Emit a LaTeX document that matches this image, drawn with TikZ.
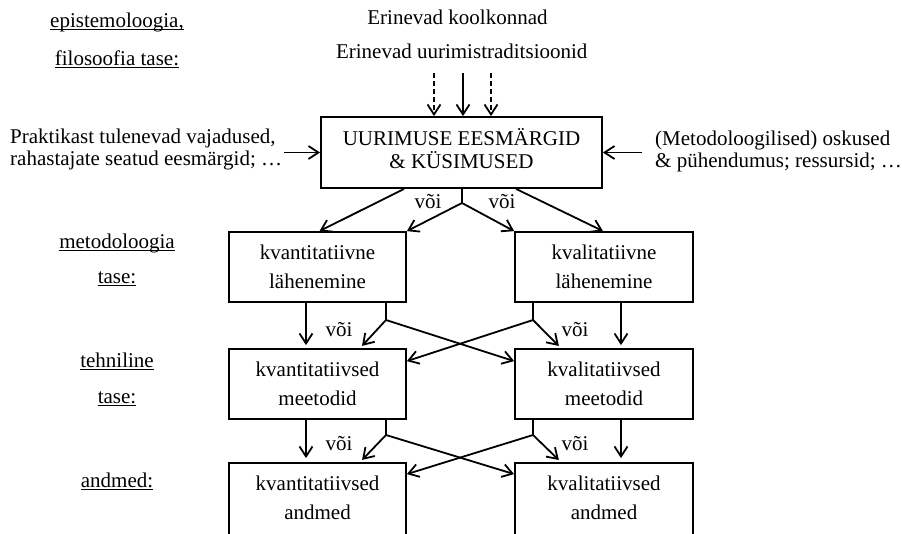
\documentclass[tikz,border=0pt]{standalone}
\usepackage{fontspec}
\setmainfont{Liberation Serif}
\usetikzlibrary{arrows.meta,calc}
\newsavebox\undlbox
\newcommand\undl[1]{\sbox\undlbox{#1}\rlap{\rule[-2.5pt]{\wd\undlbox}{0.9pt}}\usebox\undlbox}
\begin{document}
\begin{tikzpicture}[x=1pt,y=-1pt,
  every node/.style={font=\fontsize{21}{22}\selectfont},
  box/.style={draw, line width=1.8pt, align=center, inner sep=0pt, font=\fontsize{21}{29}\selectfont},
  lvl/.style={anchor=base, inner sep=0pt},
  txt/.style={inner sep=0pt},
  vv/.style={anchor=base, inner sep=0pt},
  ln/.style={line width=1.8pt},
  arr/.style={line width=1.8pt, -{Straight Barb[length=10pt,width=13pt]}},
  dsh/.style={dash pattern=on 5pt off 3pt}
]
\useasboundingbox (0,0) rectangle (902,533);

% boxes
\node[box, minimum width=281pt, minimum height=71pt, font=\fontsize{21}{23}\selectfont] (main) at (461.5,152.5) {UURIMUSE EESMÄRGID\\\& KÜSIMUSED\rule[-8pt]{0pt}{8pt}};
\node[box, minimum width=177pt, minimum height=70pt] (q1) at (317.5,267) {kvantitatiivne\\lähenemine};
\node[box, minimum width=178pt, minimum height=70pt] (q2) at (604,267) {kvalitatiivne\\lähenemine};
\node[box, minimum width=177pt, minimum height=70pt] (r1) at (317.5,384) {kvantitatiivsed\\meetodid};
\node[box, minimum width=178pt, minimum height=70pt] (r2) at (604,384) {kvalitatiivsed\\meetodid};
\node[box, minimum width=177pt, minimum height=74pt] (d1) at (317.5,500) {kvantitatiivsed\\andmed\rule[-4pt]{0pt}{4pt}};
\node[box, minimum width=178pt, minimum height=74pt] (d2) at (604,500) {kvalitatiivsed\\andmed\rule[-4pt]{0pt}{4pt}};

% top texts
\node[vv] (k1) at (457.5,24) {Erinevad koolkonnad};
\node[vv] (k2) at (461.7,58) {Erinevad uurimistraditsioonid};

% side texts
\node[txt, anchor=west, align=left] (lt) at (10,149.5) {Praktikast tulenevad vajadused,\\rahastajate seatud eesmärgid; …};
\node[txt, anchor=west, align=left] (rt) at (655,151) {(Metodoloogilised) oskused\\\& pühendumus; ressursid; …};

% level labels
\node[lvl] (e1) at (117,27) {\undl{epistemoloogia,}};
\node[lvl] (e2) at (117,65) {\undl{filosoofia tase:}};
\node[lvl] (m1) at (117,248) {\undl{metodoloogia}};
\node[lvl] (m2) at (117,283) {\undl{tase:}};
\node[lvl] (t1) at (117,367) {\undl{tehniline}};
\node[lvl] (t2) at (117,403) {\undl{tase:}};
\node[lvl] (a1) at (117,487) {\undl{andmed:}};

% top arrows
\coordinate (ta) at (434,73);
\coordinate (tb) at (463,73);
\coordinate (tc) at (491,73);
\draw[arr, dsh] (ta) -- (ta |- main.north);
\draw[arr] (tb) -- (tb |- main.north);
\draw[arr, dsh] (tc) -- (tc |- main.north);

% side arrows
\coordinate (ls) at ([xshift=2pt]lt.east);
\coordinate (rs) at ([xshift=-13pt]rt.west);
\draw[arr] (ls |- main.west) -- (main.west);
\draw[arr] (rs |- main.east) -- (main.east);

% level 1 -> 2
\coordinate (s0) at (462,203);
\coordinate (o1) at (404,0);
\coordinate (o2) at (516,0);
\draw[ln] (main.south -| s0) -- (s0);
\draw[arr] (s0) -- (q1.north east);
\draw[arr] (s0) -- (q2.north west);
\draw[arr] (o1 |- main.south) -- ([xshift=2pt]q1.north);
\draw[arr] (o2 |- main.south) -- ([xshift=-1pt]q2.north);
\node[vv] (v1) at (428,208) {või};
\node[vv] (v2) at (502,208) {või};

% level 2 -> 3
\coordinate (xa) at (306,0);
\coordinate (xb) at (621,0);
\coordinate (xc) at (386,0);
\coordinate (xd) at (533,0);
\coordinate (p1) at (360,0);
\coordinate (p2) at (561,0);
\coordinate (c1) at (386,320);
\coordinate (c2) at (533,320);
\draw[arr, shorten >=3pt] (xa |- q1.south) -- (xa |- r1.north);
\draw[arr, shorten >=3pt] (xb |- q2.south) -- (xb |- r2.north);
\draw[ln] (xc |- q1.south) -- (c1);
\draw[ln] (xd |- q2.south) -- (c2);
\draw[arr, shorten >=3pt] (c1) -- (p1 |- r1.north);
\draw[arr] (c1) -- ([yshift=-13pt]r2.north west);
\draw[arr, shorten >=3pt] (c2) -- (p2 |- r2.north);
\draw[arr] (c2) -- ([yshift=-13pt]r1.north east);
\node[vv] (v3) at (339,336.7) {või};
\node[vv] (v4) at (575,336.7) {või};

% level 3 -> 4
\coordinate (c3) at (386,435);
\coordinate (c4) at (533,435);
\draw[arr, shorten >=4pt] (xa |- r1.south) -- (xa |- d1.north);
\draw[arr, shorten >=4pt] (xb |- r2.south) -- (xb |- d2.north);
\draw[ln] (xc |- r1.south) -- (c3);
\draw[ln] (xd |- r2.south) -- (c4);
\draw[arr, shorten >=3pt] (c3) -- (p1 |- d1.north);
\draw[arr] (c3) -- ([yshift=-12pt]d2.north west);
\draw[arr, shorten >=3pt] (c4) -- (p2 |- d2.north);
\draw[arr] (c4) -- ([yshift=-12pt]d1.north east);
\node[vv] (v5) at (339,450) {või};
\node[vv] (v6) at (575,450) {või};
\end{tikzpicture}
\end{document}
